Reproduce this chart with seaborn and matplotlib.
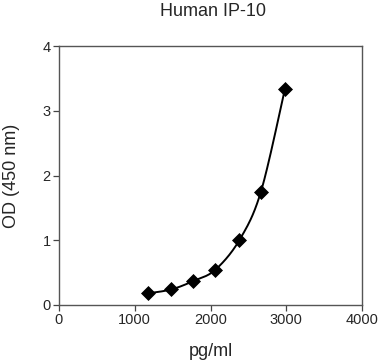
import numpy as np
import pandas as pd
import matplotlib
matplotlib.use("Agg")
import matplotlib.pyplot as plt
import seaborn as sns

conc = [1180, 1485, 1775, 2060, 2380, 2665, 2980]
od = [0.18, 0.24, 0.37, 0.54, 1.00, 1.75, 3.33]
xticks = [0, 1000, 2000, 3000, 4000]
yticks = [0, 1, 2, 3, 4]

sns.set_theme(style="ticks")
plt.rcParams['font.family'] = ['Liberation Sans', 'DejaVu Sans']

df = pd.DataFrame({"pg/ml": conc, "OD": od})

fig = plt.figure(figsize=(3.8, 3.6), dpi=100)
ax = fig.add_axes([0.155, 0.153, 0.798, 0.719])

# smooth curve through points (Catmull-Rom, as in a smoothed line chart)
P = np.column_stack([conc, od]).astype(float)
Pe = np.vstack([P[0], P, P[-1]])
segs = []
t = np.linspace(0, 1, 30)[:, None]
for i in range(1, len(Pe) - 2):
    p0, p1, p2, p3 = Pe[i - 1], Pe[i], Pe[i + 1], Pe[i + 2]
    seg = 0.5 * ((2 * p1) + (-p0 + p2) * t + (2 * p0 - 5 * p1 + 4 * p2 - p3) * t**2
                 + (-p0 + 3 * p1 - 3 * p2 + p3) * t**3)
    segs.append(seg)
curve = np.vstack(segs)
sns.lineplot(x=curve[:, 0], y=curve[:, 1], ax=ax, color="black", lw=1.4,
             sort=False, estimator=None)
sns.scatterplot(data=df, x="pg/ml", y="OD", ax=ax, marker="D", s=50,
                color="black", edgecolor="black", zorder=3)

ax.set_xlim(0, 4000)
ax.set_ylim(0, 4)
ax.set_xticks(xticks)
ax.set_yticks(yticks)
ax.tick_params(labelsize=10.5, length=4, width=0.9, color="#444444", pad=2)
for s in ax.spines.values():
    s.set_color("#555555")
    s.set_linewidth(1.0)
ax.set_xlabel("pg/ml", fontsize=13, labelpad=11)
ax.set_ylabel("OD (450 nm)", fontsize=13, labelpad=16)
fig.text(0.56, 0.967, "Human IP-10", ha="center", va="center", fontsize=13)

fig.savefig("out.png", dpi=100)
